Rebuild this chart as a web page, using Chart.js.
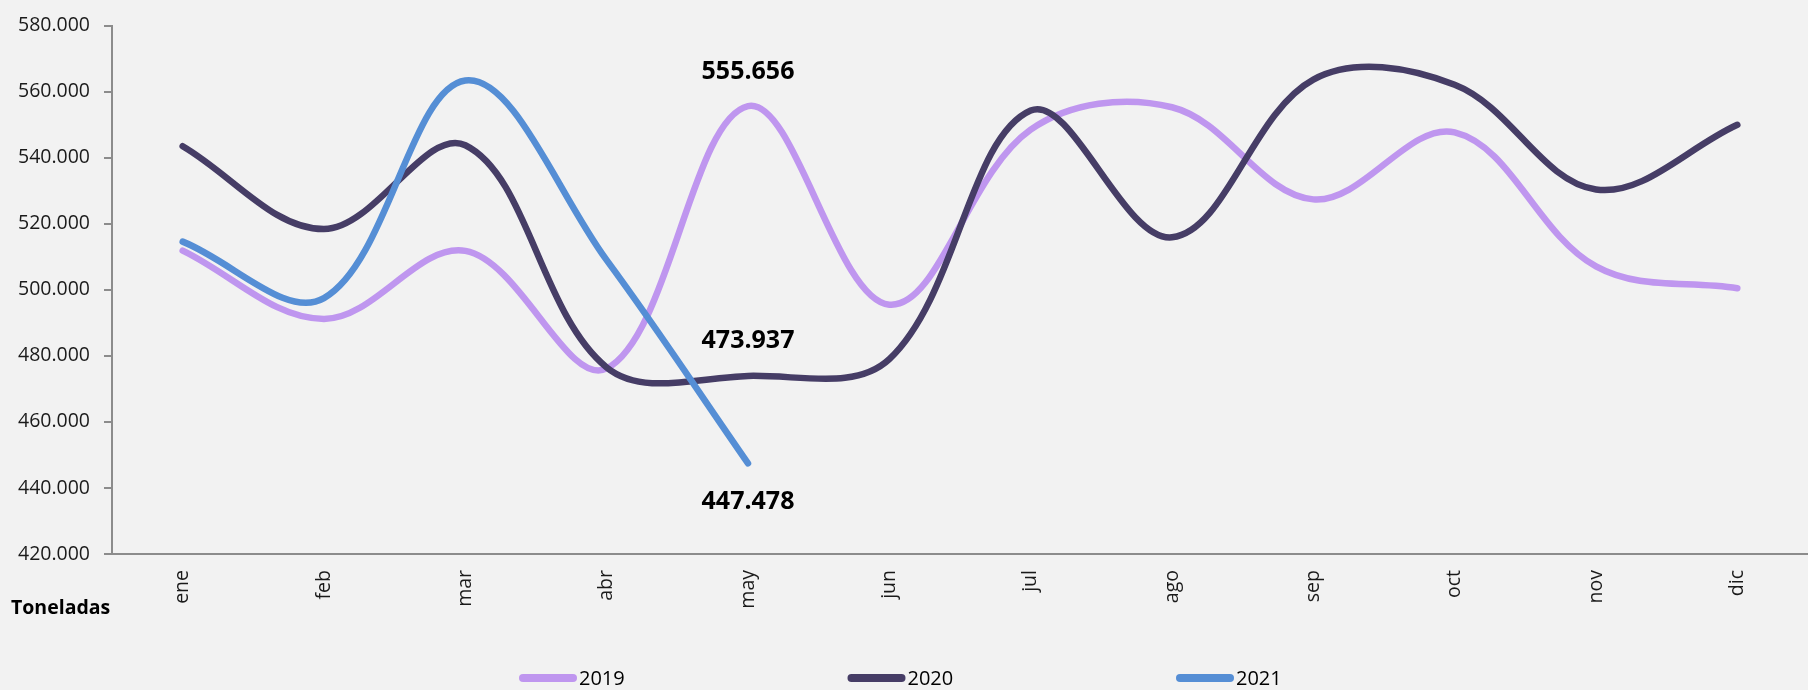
<!DOCTYPE html>
<html>
<head>
<meta charset="utf-8">
<script src="https://cdn.jsdelivr.net/npm/chart.js@4/dist/chart.umd.min.js"></script>
<style>
  html, body { margin: 0; padding: 0; background: #f2f2f2; }
  canvas { display: block; }
</style>
</head>
<body>
<canvas id="chart" width="1808" height="690"></canvas>
<script>
// Toneladas por mes
const months = ['ene', 'feb', 'mar', 'abr', 'may', 'jun', 'jul', 'ago', 'sep', 'oct', 'nov', 'dic'];
const years = ['2019', '2020', '2021'];
const tons2019 = [511900, 491200, 511800, 476200, 555656, 495500, 548500, 555300, 527400, 547700, 507100, 500500];
const tons2020 = [543500, 518400, 543800, 476500, 473937, 479000, 554300, 515900, 563700, 562100, 530400, 550000];
const tons2021 = [514600, 497500, 563400, 509000, 447478];
const yTicks = [420000, 440000, 460000, 480000, 500000, 520000, 540000, 560000, 580000];
const labelMonth = 4; // may, last month with 2021 data

const FONT = "'Open Sans', 'Noto Sans', sans-serif";

// 580000 -> "580.000"
function fmt(v) {
    return String(Math.round(v)).replace(/\B(?=(\d{3})+(?!\d))/g, '.');
}

const background = {
    id: 'background',
    beforeDraw(chart) {
        const ctx = chart.ctx;
        ctx.save();
        ctx.fillStyle = '#f2f2f2';
        ctx.fillRect(0, 0, chart.width, chart.height);
        ctx.restore();
    }
};

// value labels on the may points
const valueLabels = {
    id: 'valueLabels',
    afterDatasetsDraw(chart) {
        const ctx = chart.ctx;
        const offsets = [-34, -35, 39];
        ctx.save();
        ctx.font = `bold 25px ${FONT}`;
        ctx.fillStyle = '#000';
        ctx.textAlign = 'center';
        ctx.textBaseline = 'middle';
        chart.data.datasets.forEach((ds, i) => {
            const pt = chart.getDatasetMeta(i).data[labelMonth];
            if (!pt) return;
            ctx.fillText(fmt(ds.data[labelMonth]), pt.x, pt.y + offsets[i]);
        });
        ctx.restore();
    }
};

// bottom legend + unit caption
const bottomLegend = {
    id: 'bottomLegend',
    afterDraw(chart) {
        const ctx = chart.ctx;
        const spacing = 328.5, swatch = 58, y = 678;
        ctx.save();
        ctx.font = `bold 19.5px ${FONT}`;
        ctx.fillStyle = '#000';
        ctx.textBaseline = 'middle';
        ctx.fillText('Toneladas', 11, 608);

        ctx.font = `20px ${FONT}`;
        let x = 519;
        chart.data.datasets.forEach(ds => {
            ctx.strokeStyle = ds.borderColor;
            ctx.lineWidth = 8;
            ctx.lineCap = 'round';
            ctx.beginPath();
            ctx.moveTo(x + 4, y);
            ctx.lineTo(x + swatch - 4, y);
            ctx.stroke();
            ctx.fillStyle = '#000';
            ctx.fillText(ds.label, x + swatch + 2, y + 1);
            x += spacing;
        });
        ctx.restore();
    }
};

const line = (label, data, color, order) => ({
    label, data, order,
    borderColor: color,
    backgroundColor: color,
    borderWidth: 6.5,
    borderCapStyle: 'round',
    borderJoinStyle: 'round',
    pointRadius: 0,
    pointHoverRadius: 0,
    tension: 0.36,
    fill: false
});

new Chart(document.getElementById('chart'), {
    type: 'line',
    data: {
        labels: months,
        datasets: [
            line(years[0], tons2019, '#bf96ef', 3),
            line(years[1], tons2020, '#463d66', 2),
            line(years[2], tons2021, '#558ed5', 1)
        ]
    },
    options: {
        responsive: false,
        animation: false,
        devicePixelRatio: 1,
        layout: { padding: { top: 19, right: -4, left: 0, bottom: 0 } },
        plugins: {
            legend: { display: false },
            tooltip: { enabled: false }
        },
        scales: {
            x: {
                offset: true,
                afterFit(scale) { scale.height = 136; },
                grid: { display: true, offset: true, drawOnChartArea: false, drawTicks: false, tickLength: 0 },
                border: { display: true, color: '#8c8c8c', width: 2 },
                ticks: {
                    minRotation: 90,
                    maxRotation: 90,
                    padding: 16,
                    color: '#1a1a1a',
                    font: { family: FONT, size: 19.5 }
                }
            },
            y: {
                min: yTicks[0],
                max: yTicks[yTicks.length - 1],
                afterFit(scale) { scale.width = 112; },
                afterBuildTicks(scale) { scale.ticks = yTicks.map(v => ({ value: v })); },
                grid: { drawOnChartArea: false, drawTicks: true, tickLength: 8, color: '#8c8c8c', lineWidth: 2 },
                border: { display: true, color: '#8c8c8c', width: 2 },
                ticks: {
                    padding: 14,
                    color: '#1a1a1a',
                    font: { family: FONT, size: 19.5 },
                    callback: v => fmt(v)
                }
            }
        }
    },
    plugins: [background, valueLabels, bottomLegend]
});
</script>
</body>
</html>
